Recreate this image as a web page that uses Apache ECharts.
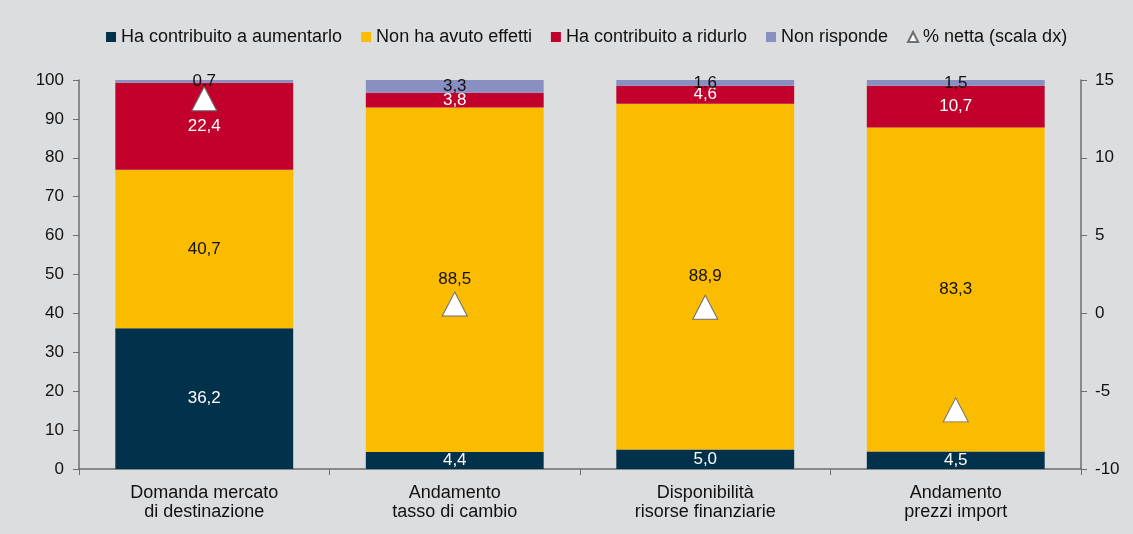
<!DOCTYPE html>
<html>
<head>
<meta charset="utf-8">
<script src="https://cdn.jsdelivr.net/npm/echarts@6/dist/echarts.min.js"></script>
<style>
  html, body { margin: 0; padding: 0; background: #dcdddf; }
  #chart { width: 1133px; height: 534px; }
</style>
</head>
<body>
<div id="chart"></div>
<script>
var categories = ['Domanda mercato\ndi destinazione', 'Andamento\ntasso di cambio', 'Disponibilità\nrisorse finanziarie', 'Andamento\nprezzi import'];
var aumentarlo = [36.2, 4.4, 5.0, 4.5];
var nessunEffetto = [40.7, 88.5, 88.9, 83.3];
var ridurlo = [22.4, 3.8, 4.6, 10.7];
var nonRisponde = [0.7, 3.3, 1.6, 1.5];
var netta = [13.8, 0.6, 0.4, -6.2];

function comma(p) { return p.value.toFixed(1).replace('.', ','); }

function barSeries(name, data, color, labelColor) {
    return {
        name: name,
        type: 'bar',
        stack: 'tot',
        data: data,
        barWidth: '71%',
        itemStyle: {color: color},
        label: {
            show: true,
            position: 'inside',
            color: labelColor,
            fontSize: 17,
            fontFamily: 'Liberation Sans',
            formatter: comma
        }
    };
}

var myChart = echarts.init(document.getElementById('chart'));
myChart.setOption({
    backgroundColor: '#dcdddf',
    animation: false,
    textStyle: {fontFamily: 'Liberation Sans'},
    legend: {
        top: 23,
        left: 101,
        itemWidth: 10,
        itemHeight: 10,
        itemGap: 19,
        textStyle: {fontSize: 18, color: '#111', fontFamily: 'Liberation Sans'},
        data: [
            {name: 'Ha contribuito a aumentarlo', icon: 'rect'},
            {name: 'Non ha avuto effetti', icon: 'rect'},
            {name: 'Ha contribuito a ridurlo', icon: 'rect'},
            {name: 'Non risponde', icon: 'rect'},
            {name: '% netta (scala dx)', icon: 'triangle'}
        ]
    },
    grid: {left: 79, right: 52, top: 80, bottom: 65},
    xAxis: {
        type: 'category',
        data: categories,
        axisLine: {lineStyle: {color: '#6e6e6e', width: 1.5}},
        axisTick: {show: true, alignWithLabel: false, length: 6, lineStyle: {color: '#6e6e6e'}},
        axisLabel: {color: '#111', fontSize: 18, lineHeight: 19, margin: 15}
    },
    yAxis: [{
        type: 'value',
        min: 0, max: 100, interval: 10,
        axisLine: {show: true, lineStyle: {color: '#6e6e6e', width: 1.5}},
        axisTick: {show: true, length: 6, lineStyle: {color: '#6e6e6e'}},
        splitLine: {show: false},
        axisLabel: {color: '#111', fontSize: 17, margin: 15}
    }, {
        type: 'value',
        min: -10, max: 15, interval: 5,
        position: 'right',
        axisLine: {show: true, lineStyle: {color: '#6e6e6e', width: 1.5}},
        axisTick: {show: true, length: 6, lineStyle: {color: '#6e6e6e'}},
        splitLine: {show: false},
        axisLabel: {color: '#111', fontSize: 17, margin: 14}
    }],
    series: [
        barSeries('Ha contribuito a aumentarlo', aumentarlo, '#02314b', '#fff'),
        barSeries('Non ha avuto effetti', nessunEffetto, '#fbbc00', '#111'),
        barSeries('Ha contribuito a ridurlo', ridurlo, '#c1002b', '#fff'),
        barSeries('Non risponde', nonRisponde, '#8a8fc2', '#111'),
        {
            name: '% netta (scala dx)',
            type: 'scatter',
            yAxisIndex: 1,
            data: netta,
            symbol: 'triangle',
            symbolSize: [25, 24],
            itemStyle: {color: '#fff', borderColor: '#6e6e6e', borderWidth: 1, opacity: 1},
            z: 5
        }
    ]
});
</script>
</body>
</html>
